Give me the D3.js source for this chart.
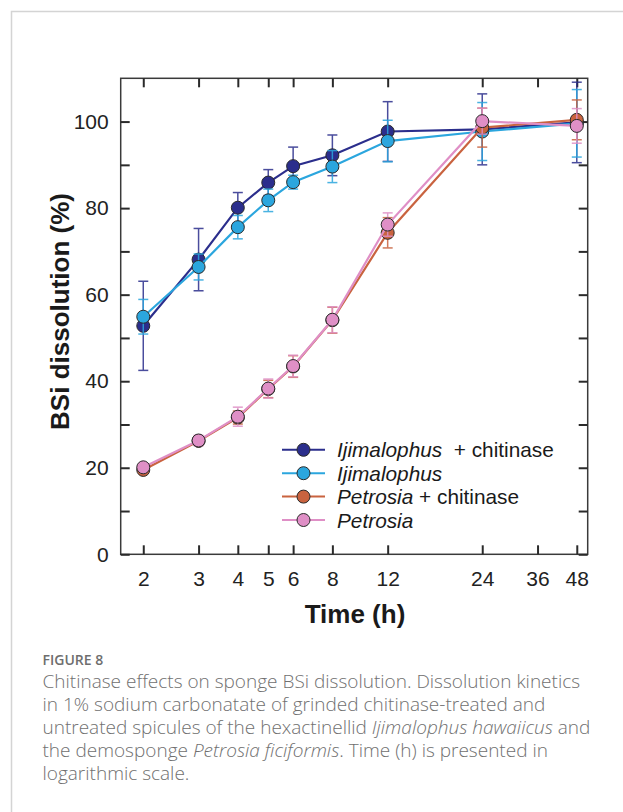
<!DOCTYPE html>
<html>
<head>
<meta charset="utf-8">
<script src="https://cdn.jsdelivr.net/npm/d3@7"></script>
<style>
  html, body { margin: 0; padding: 0; background: #fff; }
  svg { display: block; }
  text { font-family: "Liberation Sans", Arial, sans-serif; }
  .cap { font-family: "Open Sans", "Noto Sans", sans-serif; }
</style>
</head>
<body>
<div id="chart"></div>
<script>
// Time points (h), log scale
const times = [2, 3, 4, 5, 6, 8, 12, 24, 48];
const xTicks = [2, 3, 4, 5, 6, 8, 12, 24, 36, 48];
const yTicks = [0, 10, 20, 30, 40, 50, 60, 70, 80, 90, 100];

// BSi dissolution (%) and error bars
const ijiChit    = [52.8, 68.1, 80.1, 85.9, 89.7, 92.2, 97.7, 98.2, 99.8];
const ijiChitErr = [10.3, 7.2, 3.5, 3.0, 4.4, 4.7, 6.9, 8.2, 9.3];
const iji        = [54.9, 66.4, 75.6, 81.8, 86.0, 89.6, 95.5, 97.7, 99.6];
const ijiErr     = [4.0, 3.0, 2.7, 2.6, 1.6, 3.7, 4.8, 6.7, 7.8];
const petChit    = [19.5, 26.2, 31.6, 38.2, 43.4, 54.1, 74.3, 98.6, 100.4];
const petChitErr = [0.6, 1.0, 1.5, 2.0, 2.5, 3.0, 3.5, 4.5, 4.6];
const pet        = [20.1, 26.3, 31.8, 38.3, 43.5, 54.2, 76.2, 100.1, 99.0];
const petErr     = [0.6, 1.2, 2.2, 2.2, 2.5, 3.0, 2.7, 3.0, 4.0];

const series = [
  { genus: 'Ijimalophus', suffix: '  + chitinase', values: ijiChit, err: ijiChitErr, color: '#2b2e8c' },
  { genus: 'Ijimalophus', suffix: '', values: iji, err: ijiErr, color: '#2ba6de' },
  { genus: 'Petrosia', suffix: ' + chitinase', values: petChit, err: petChitErr, color: '#c9633f' },
  { genus: 'Petrosia', suffix: '', values: pet, err: petErr, color: '#df8fc6' }
];

const W = 623, H = 812;
const svg = d3.select('#chart').append('svg').attr('width', W).attr('height', H);

// рамка карточки
svg.append('path')
  .attr('d', `M11.5,${H} V11.5 H${W}`)
  .attr('fill', 'none').attr('stroke', '#d4d4d4').attr('stroke-width', 1.5);

const plot = { left: 120.7, right: 587.7, top: 78.3, bottom: 554.3 };
const x = d3.scaleLog().domain([1.695, 52]).range([plot.left, plot.right]);
const y = d3.scaleLinear().domain([0, 110]).range([plot.bottom, plot.top]);

const g = svg.append('g');
const tickLen = 9;

// frame
g.append('rect')
  .attr('x', plot.left).attr('y', plot.top)
  .attr('width', plot.right - plot.left).attr('height', plot.bottom - plot.top)
  .attr('fill', 'none').attr('stroke', '#3a3a3a').attr('stroke-width', 1.5);

// axes with inward ticks
const fmtX = d => String(d);
const xb = g.append('g').attr('transform', `translate(0,${plot.bottom})`)
  .call(d3.axisBottom(x).tickValues(xTicks).tickFormat(fmtX).tickSizeInner(-tickLen).tickSizeOuter(0).tickPadding(22));
const xt = g.append('g').attr('transform', `translate(0,${plot.top})`)
  .call(d3.axisTop(x).tickValues(xTicks).tickFormat('').tickSizeInner(-tickLen).tickSizeOuter(0));
const yl = g.append('g').attr('transform', `translate(${plot.left},0)`)
  .call(d3.axisLeft(y).tickValues(yTicks).tickFormat(d => d % 20 === 0 ? d : '').tickSizeInner(-tickLen).tickSizeOuter(0).tickPadding(12));
const yr = g.append('g').attr('transform', `translate(${plot.right},0)`)
  .call(d3.axisRight(y).tickValues(yTicks).tickFormat('').tickSizeInner(-tickLen).tickSizeOuter(0));

[xb, xt, yl, yr].forEach(a => {
  a.select('.domain').remove();
  a.selectAll('.tick line').attr('stroke', '#2a2a2a').attr('stroke-width', 2);
  a.selectAll('.tick text').attr('fill', '#222').style('font-size', '21px')
    .style('font-family', '"Liberation Sans", Arial, sans-serif');
});
xb.selectAll('.tick text').attr('dy', '0.71em').attr('y', 17);

// axis titles
svg.append('text')
  .attr('x', 355).attr('y', 623)
  .attr('text-anchor', 'middle')
  .style('font-size', '26px').style('font-weight', 'bold').attr('fill', '#1a1a1a')
  .text('Time (h)');

svg.append('text')
  .attr('transform', 'translate(69,311.5) rotate(-90)')
  .attr('text-anchor', 'middle')
  .style('font-size', '26px').style('font-weight', 'bold').attr('fill', '#1a1a1a')
  .text('BSi dissolution (%)');

// series
const line = d3.line().x(d => x(d.t)).y(d => y(d.v));
const cap = 5;

series.forEach(s => {
  const pts = times.map((t, i) => ({ t, v: s.values[i], e: s.err[i] }));
  const sg = g.append('g');

  // error bars
  const eb = sg.selectAll('.err').data(pts).enter().append('g')
    .attr('stroke', s.color).attr('stroke-width', 1.5).attr('opacity', 0.85);
  eb.append('line')
    .attr('x1', d => x(d.t)).attr('x2', d => x(d.t))
    .attr('y1', d => y(d.v - d.e)).attr('y2', d => y(d.v + d.e));
  eb.append('line')
    .attr('x1', d => x(d.t) - cap).attr('x2', d => x(d.t) + cap)
    .attr('y1', d => y(d.v + d.e)).attr('y2', d => y(d.v + d.e));
  eb.append('line')
    .attr('x1', d => x(d.t) - cap).attr('x2', d => x(d.t) + cap)
    .attr('y1', d => y(d.v - d.e)).attr('y2', d => y(d.v - d.e));

  sg.append('path').datum(pts)
    .attr('d', line)
    .attr('fill', 'none').attr('stroke', s.color).attr('stroke-width', 2.2);

  sg.selectAll('circle').data(pts).enter().append('circle')
    .attr('cx', d => x(d.t)).attr('cy', d => y(d.v))
    .attr('r', 6.5)
    .attr('fill', s.color).attr('stroke', '#2a2a2a').attr('stroke-width', 1);
});

// legend
const leg = svg.append('g');
series.forEach((s, i) => {
  const ly = 449.8 + i * 23.4;
  leg.append('line')
    .attr('x1', 282).attr('x2', 325).attr('y1', ly).attr('y2', ly)
    .attr('stroke', s.color).attr('stroke-width', 2);
  leg.append('circle')
    .attr('cx', 303.5).attr('cy', ly).attr('r', 6.5)
    .attr('fill', s.color).attr('stroke', '#2a2a2a').attr('stroke-width', 1);
  const t = leg.append('text')
    .attr('x', 337).attr('y', ly + 7.5)
    .style('font-size', '20.8px').attr('fill', '#1a1a1a')
    .style('white-space', 'pre');
  t.append('tspan').style('font-style', 'italic').text(s.genus);
  if (s.suffix) t.append('tspan').text(s.suffix);
});

// caption
svg.append('text')
  .attr('class', 'cap')
  .attr('x', 42.5).attr('y', 665)
  .style('font-size', '14px').style('font-weight', 600).attr('fill', '#6e6e6e')
  .text('FIGURE 8');

const captionLines = [
  [['Chitinase effects on sponge BSi dissolution. Dissolution kinetics', false]],
  [['in 1% sodium carbonatate of grinded chitinase-treated and', false]],
  [['untreated spicules of the hexactinellid ', false], ['Ijimalophus hawaiicus', true], [' and', false]],
  [['the demosponge ', false], ['Petrosia ficiformis', true], ['. Time (h) is presented in', false]],
  [['logarithmic scale.', false]]
];
captionLines.forEach((parts, i) => {
  const t = svg.append('text')
    .attr('class', 'cap')
    .attr('x', 42.5).attr('y', 688 + i * 23)
    .style('font-size', '19px').style('font-weight', 300).attr('fill', '#707070')
    .style('white-space', 'pre');
  parts.forEach(([txt, it]) => {
    const ts = t.append('tspan').text(txt);
    if (it) ts.style('font-style', 'italic');
  });
});
</script>
</body>
</html>
